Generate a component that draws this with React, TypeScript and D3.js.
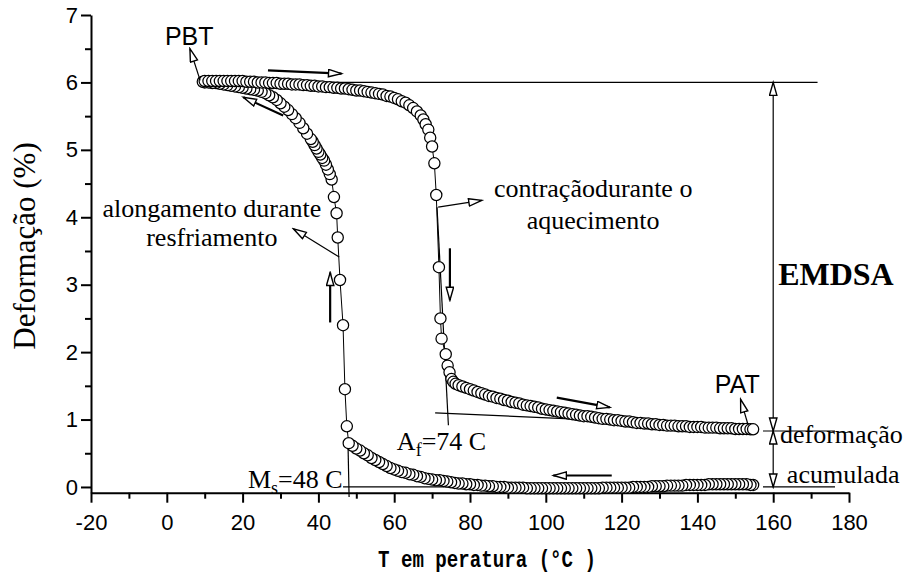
import { useEffect, useRef } from "react";
import * as d3 from "d3";

// heating branch (PBT -> PAT)
const heatingTemp = [
  10, 11, 12, 13, 14, 15, 16, 17, 18, 19, 20, 21, 22, 23, 24, 25, 26, 27, 28, 29,
  30, 31, 32, 33, 34, 35, 36, 37, 38, 39, 40, 41, 42, 43, 44, 45, 46, 47, 48, 49,
  50, 51, 52, 53, 54, 55, 56, 57, 58, 59, 60, 61, 62, 63, 64, 65, 66, 67, 67.7, 68.3,
  69, 69.5, 70, 70.6, 71.1, 71.8, 72.2, 72.5, 73.6, 74.1, 74.6, 75.1, 75.6, 76.2, 77, 78, 79, 80,
  81, 82, 83, 84, 85, 86, 87, 88, 89, 90, 91, 92, 93, 94, 95, 96, 97, 98, 99, 100,
  101, 102, 103, 104, 105, 106, 107, 108, 109, 110, 111, 112, 113, 114, 115, 116, 117, 118, 119, 120,
  121, 122, 123, 124, 125, 126, 127, 128, 129, 130, 131, 132, 133, 134, 135, 136, 137, 138, 139, 140,
  141, 142, 143, 144, 145, 146, 147, 148, 149, 150, 151, 152, 153, 154, 154.7
];
const heatingStrain = [
  6.02, 6.02, 6.02, 6.02, 6.02, 6.02, 6.02, 6.02, 6.02, 6.02, 6.02, 6.01, 6.01, 6.01, 6.0, 6.0, 6.0, 5.99, 5.99, 5.99,
  5.98, 5.98, 5.98, 5.97, 5.97, 5.97, 5.96, 5.96, 5.95, 5.95, 5.94, 5.94, 5.93, 5.93, 5.92, 5.92, 5.91, 5.91, 5.9, 5.89,
  5.88, 5.88, 5.87, 5.86, 5.85, 5.84, 5.83, 5.82, 5.8, 5.79, 5.77, 5.75, 5.72, 5.7, 5.66, 5.62, 5.57, 5.51, 5.45, 5.38,
  5.3, 5.18, 5.05, 4.8, 4.33, 3.26, 2.5, 2.2, 1.97, 1.8, 1.7, 1.6, 1.56, 1.53, 1.51, 1.49, 1.47, 1.45,
  1.43, 1.41, 1.39, 1.37, 1.35, 1.34, 1.32, 1.31, 1.29, 1.28, 1.26, 1.25, 1.24, 1.22, 1.21, 1.2, 1.19, 1.18, 1.16, 1.15,
  1.14, 1.13, 1.12, 1.11, 1.1, 1.09, 1.08, 1.07, 1.06, 1.05, 1.05, 1.04, 1.03, 1.02, 1.01, 1.01, 1.0, 0.99, 0.99, 0.98,
  0.97, 0.97, 0.96, 0.95, 0.95, 0.94, 0.94, 0.93, 0.93, 0.92, 0.92, 0.91, 0.91, 0.91, 0.9, 0.9, 0.9, 0.89, 0.89, 0.89,
  0.89, 0.88, 0.88, 0.88, 0.88, 0.87, 0.87, 0.87, 0.87, 0.86, 0.86, 0.86, 0.86, 0.855, 0.855
];

// cooling branch (high temperature back to PBT)
const coolingTemp = [
  154.7, 154, 153, 152, 151, 150, 149, 148, 147, 146, 145, 144, 143, 142, 141, 140, 139, 138, 137, 136,
  135, 134, 133, 132, 131, 130, 129, 128, 127, 126, 125, 124, 123, 122, 121, 120, 119, 118, 117, 116,
  115, 114, 113, 112, 111, 110, 109, 108, 107, 106, 105, 104, 103, 102, 101, 100, 99, 98, 97, 96,
  95, 94, 93, 92, 91, 90, 89, 88, 87, 86, 85, 84, 83, 82, 81, 80, 79, 78, 77, 76,
  75, 74, 73, 72, 71, 70, 69, 68, 67, 66, 65, 64, 63, 62, 61, 60, 59, 58, 57, 56,
  55, 54, 53, 52, 51, 50, 49, 48, 47.5, 47, 46.5, 45.7, 45.1, 44.8, 44.1, 43.5, 43, 42.5, 42, 41.5,
  41, 40.5, 40, 39.5, 39, 38.5, 38, 37, 36, 35, 34, 33, 32, 31, 30, 29, 28, 27, 26, 25,
  24, 23, 22, 21, 20, 19, 18, 17, 16, 15, 14, 13, 12, 11, 10, 9.5
];
const coolingStrain = [
  0.03, 0.03, 0.04, 0.04, 0.04, 0.04, 0.04, 0.04, 0.04, 0.04, 0.04, 0.04, 0.04, 0.03, 0.03, 0.03, 0.03, 0.03, 0.03, 0.02,
  0.02, 0.02, 0.02, 0.02, 0.01, 0.01, 0.01, 0.01, 0.0, 0.0, 0.0, 0.0, 0.0, -0.01, -0.01, -0.01, -0.01, -0.01, -0.01, -0.01,
  -0.01, -0.02, -0.02, -0.02, -0.02, -0.02, -0.02, -0.02, -0.02, -0.02, -0.02, -0.02, -0.02, -0.02, -0.02, -0.02, -0.02, -0.02, -0.02, -0.02,
  -0.02, -0.01, -0.01, -0.01, -0.01, -0.01, 0.0, 0.0, 0.0, 0.01, 0.01, 0.02, 0.02, 0.03, 0.03, 0.04, 0.04, 0.05, 0.05, 0.06,
  0.07, 0.08, 0.09, 0.1, 0.1, 0.11, 0.12, 0.13, 0.15, 0.16, 0.18, 0.19, 0.21, 0.22, 0.24, 0.26, 0.28, 0.31, 0.34, 0.37,
  0.4, 0.43, 0.47, 0.5, 0.54, 0.57, 0.61, 0.65, 0.9, 1.45, 2.4, 3.07, 3.7, 4.06, 4.3, 4.56, 4.64, 4.71, 4.78, 4.84,
  4.88, 4.93, 4.97, 5.02, 5.07, 5.12, 5.16, 5.24, 5.32, 5.4, 5.47, 5.53, 5.59, 5.64, 5.69, 5.74, 5.78, 5.81, 5.84, 5.86,
  5.88, 5.89, 5.9, 5.91, 5.92, 5.93, 5.94, 5.95, 5.96, 5.97, 5.98, 5.99, 5.99, 6.0, 6.0, 6.01
];

const xTicks = [-20, 0, 20, 40, 60, 80, 100, 120, 140, 160, 180];
const xMinorTicks = [-10, 10, 30, 50, 70, 90, 110, 130, 150, 170];
const yTicks = [0, 1, 2, 3, 4, 5, 6, 7];
const yMinorTicks = [0.5, 1.5, 2.5, 3.5, 4.5, 5.5, 6.5];

// annotation arrows [T, D] -> [T, D]
const arrows = [
  { from: [8.8, 6.03], to: [6.1, 6.5], bold: false },
  { from: [26.7, 6.18], to: [46.1, 6.13], bold: true },
  { from: [30.7, 5.51], to: [20.2, 5.78], bold: true },
  { from: [45.5, 3.41], to: [33.4, 3.83], bold: false },
  { from: [43.1, 2.44], to: [43.1, 3.18], bold: true },
  { from: [71.6, 4.15], to: [83.1, 4.25], bold: false },
  { from: [74.7, 3.54], to: [74.7, 2.77], bold: true },
  { from: [153.4, 0.915], to: [151.4, 1.3], bold: false },
  { from: [102.9, 1.325], to: [116.9, 1.18], bold: true },
  { from: [117.4, 0.17], to: [102, 0.17], bold: true },
];
// double-headed measuring arrows at T = 160
const spans = [
  { t: 160, d0: 6.0, d1: 0.83 },
  { t: 160, d0: 0.83, d1: 0.0 },
];
// reference / tangent lines
const refLines = [
  { from: [40, 6.0], to: [171.7, 6.0] },
  { from: [157.3, 0.83], to: [176.3, 0.83] },
  { from: [157.3, 0.0], to: [176.3, 0.0] },
  { from: [71.3, 4.15], to: [74.3, 0.915] },
  { from: [70.8, 1.1], to: [114, 0.99] },
  { from: [47.8, 0.67], to: [48.1, -0.15] },
  { from: [46.5, 0.0], to: [100, 0.0] },
];

export default function App() {
  const svgRef = useRef(null);

  useEffect(() => {
    const width = 910, height = 576;
    const svg = d3.select(svgRef.current);
    svg.selectAll("*").remove();
    svg.attr("width", width).attr("height", height);

    const x = d3.scaleLinear().domain([-20, 180]).range([91, 849]);
    const y = d3.scaleLinear().domain([-0.085, 7]).range([492.7, 15]);

    const defs = svg.append("defs");
    defs.append("marker")
      .attr("id", "head")
      .attr("markerUnits", "userSpaceOnUse")
      .attr("markerWidth", 16).attr("markerHeight", 10)
      .attr("refX", 14).attr("refY", 4.5)
      .attr("orient", "auto-start-reverse")
      .append("path")
      .attr("d", "M1,0.8 L14,4.5 L1,8.2 Z")
      .attr("fill", "white").attr("stroke", "black").attr("stroke-width", 1.4);

    // axes
    const xAxis = svg.append("g")
      .attr("transform", `translate(0, ${y(-0.085)})`)
      .call(d3.axisBottom(x).tickValues(xTicks).tickSize(10).tickSizeOuter(0).tickPadding(12).tickFormat((d) => String(d)));
    svg.append("g")
      .attr("transform", `translate(0, ${y(-0.085)})`)
      .call(d3.axisBottom(x).tickValues(xMinorTicks).tickSize(6).tickSizeOuter(0).tickFormat(() => ""))
      .select(".domain").remove();
    const yAxis = svg.append("g")
      .attr("transform", `translate(${x(-20)}, 0)`)
      .call(d3.axisLeft(y).tickValues(yTicks).tickSize(10).tickSizeOuter(0).tickPadding(3).tickFormat((d) => String(d)));
    svg.append("g")
      .attr("transform", `translate(${x(-20)}, 0)`)
      .call(d3.axisLeft(y).tickValues(yMinorTicks).tickSize(6).tickSizeOuter(0).tickFormat(() => ""))
      .select(".domain").remove();

    svg.selectAll(".domain, .tick line").attr("stroke", "black").attr("stroke-width", 2);
    [xAxis, yAxis].forEach((g) => g.selectAll("text")
      .attr("font-family", "'Liberation Sans', Arial, sans-serif")
      .attr("font-size", 22).attr("fill", "black"));

    // axis titles
    svg.append("text")
      .attr("transform", "translate(35, 246) rotate(-90)")
      .attr("text-anchor", "middle")
      .attr("font-family", "'Liberation Serif', 'Times New Roman', serif")
      .attr("font-size", 31)
      .text("Deformação (%)");
    svg.append("text")
      .attr("x", 487).attr("y", 567)
      .attr("text-anchor", "middle")
      .attr("font-family", "'Liberation Mono', 'Courier New', monospace")
      .attr("font-weight", "bold")
      .attr("font-size", 23)
      .attr("textLength", 218).attr("lengthAdjust", "spacingAndGlyphs")
      .text("T em peratura (°C )");

    // reference lines
    refLines.forEach((l) => {
      svg.append("line")
        .attr("x1", x(l.from[0])).attr("y1", y(l.from[1]))
        .attr("x2", x(l.to[0])).attr("y2", y(l.to[1]))
        .attr("stroke", "black").attr("stroke-width", 1.2);
    });

    // data
    const drawBranch = (temps, strains) => {
      const pts = temps.map((t, i) => [t, strains[i]]);
      svg.append("path")
        .attr("d", d3.line().x((d) => x(d[0])).y((d) => y(d[1]))(pts))
        .attr("fill", "none").attr("stroke", "black").attr("stroke-width", 1);
      svg.append("g").selectAll("circle").data(pts).join("circle")
        .attr("cx", (d) => x(d[0])).attr("cy", (d) => y(d[1]))
        .attr("r", 5.6)
        .attr("fill", "white").attr("stroke", "black").attr("stroke-width", 1.25);
    };
    drawBranch(coolingTemp, coolingStrain);
    drawBranch(heatingTemp, heatingStrain);

    // arrows
    arrows.forEach((a) => {
      svg.append("line")
        .attr("x1", x(a.from[0])).attr("y1", y(a.from[1]))
        .attr("x2", x(a.to[0])).attr("y2", y(a.to[1]))
        .attr("stroke", "black").attr("stroke-width", a.bold ? 2.2 : 1.2)
        .attr("marker-end", "url(#head)");
    });
    spans.forEach((s) => {
      svg.append("line")
        .attr("x1", x(s.t)).attr("y1", y(s.d0))
        .attr("x2", x(s.t)).attr("y2", y(s.d1))
        .attr("stroke", "black").attr("stroke-width", 1.2)
        .attr("marker-start", "url(#head)").attr("marker-end", "url(#head)");
    });

    // labels
    const serif = "'Liberation Serif', 'Times New Roman', serif";
    const sans = "'Liberation Sans', Arial, sans-serif";
    const label = (t, d, txt, opts = {}) => svg.append("text")
      .attr("x", x(t)).attr("y", y(d))
      .attr("font-family", opts.font || serif)
      .attr("font-size", opts.size || 26)
      .attr("font-weight", opts.weight || "normal")
      .attr("text-anchor", opts.anchor || "start")
      .text(txt);

    label(-0.5, 6.55, "PBT", { font: sans, size: 25 });
    label(144.6, 1.4, "PAT", { font: sans, size: 25 });
    label(11.9, 4.0, "alongamento durante", { anchor: "middle" });
    label(11.9, 3.58, "resfriamento", { anchor: "middle" });
    label(112.5, 4.3, "contraçãodurante o", { anchor: "middle" });
    label(112.5, 3.83, "aquecimento", { anchor: "middle" });
    label(161.3, 2.99, "EMDSA", { size: 32, weight: "bold" });
    label(161.8, 0.65, "deformação");
    label(163.6, 0.055, "acumulada");

    const sub = (t, d, main, s, rest) => {
      const tx = svg.append("text")
        .attr("x", x(t)).attr("y", y(d))
        .attr("font-family", serif).attr("font-size", 26);
      tx.append("tspan").text(main);
      tx.append("tspan").attr("font-size", 18).attr("dy", 6).text(s);
      tx.append("tspan").attr("dy", -6).text(rest);
    };
    sub(60.7, 0.545, "A", "f", "=74 C");
    sub(21.4, -0.02, "M", "s", "=48 C");
  }, []);

  return (
    <svg ref={svgRef} style={{ position: "absolute", left: 0, top: 0, display: "block", background: "white" }}></svg>
  );
}
